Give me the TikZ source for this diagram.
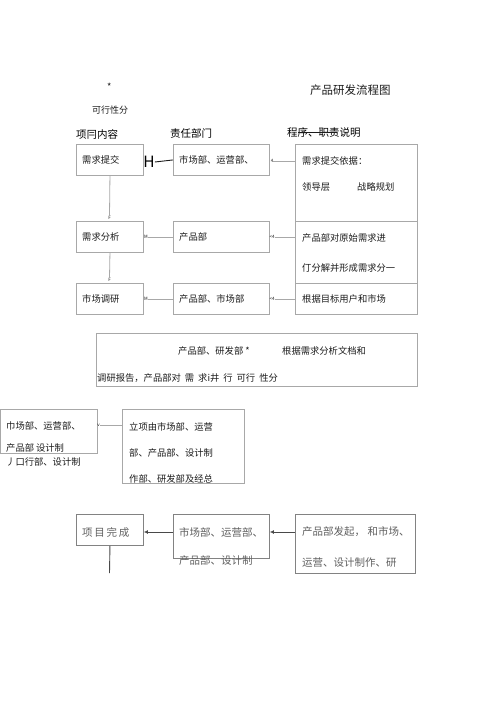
\documentclass[tikz,border=0pt]{standalone}
\usepackage{fontspec}
\setmainfont{Noto Sans CJK SC}
\usepackage{tikz}
\usetikzlibrary{arrows.meta,positioning}
\definecolor{boxgray}{HTML}{A8A8A8}
\definecolor{txtgray}{HTML}{1C1C1C}

\begin{document}
\begin{tikzpicture}[x=1pt,y=-1pt,
  box/.style={draw=boxgray,line width=0.9pt,anchor=north west,inner sep=0pt},
  txt/.style={anchor=west,inner sep=0pt,text=txtgray,font=\fontsize{9.3}{9.3}\selectfont},
  head/.style={anchor=west,inner sep=0pt,text=black,font=\fontsize{10.5}{10.5}\selectfont},
  song/.style={anchor=west,inner sep=0pt,text=txtgray!70,font=\fontsize{10.5}{10.5}\selectfont},
  tip/.style={inner sep=0pt,text=txtgray,font=\fontsize{4.5}{4.5}\selectfont},
  conn/.style={draw=boxgray,line width=0.8pt},
  arr/.style={draw=txtgray!80,line width=0.8pt,-{Latex[length=4pt,width=4pt]}}]
\fill[white] (0,0) rectangle (500,708);
\useasboundingbox (0,0) rectangle (500,708);

\node[txt] at (107,87) {*};
\node[anchor=west,inner sep=0pt,text=txtgray,font=\fontsize{11.5}{11.5}\selectfont] (title) at (310,90) {产品研发流程图};
\node[txt,font=\fontsize{9}{9}\selectfont] at (92,110) {可行性分};
\node[head] at (76,134) {项冃内容};
\node[head] at (170,134) {责任部门};
\node[head] (proc) at (287,133) {程序、职责说明};
\draw[txtgray,line width=0.6pt] (298,132) -- (337,132);

\node[box,minimum width=67,minimum height=31] (need1) at (76,144) {};
\node[box,minimum width=67,minimum height=31] (need2) at (76,221) {};
\node[box,minimum width=67,minimum height=31] (need3) at (76,283) {};
\node[box,minimum width=96,minimum height=31] (dept1) at (173,144) {};
\node[box,minimum width=96,minimum height=31] (dept2) at (173,221) {};
\node[box,minimum width=96,minimum height=31] (dept3) at (173,283) {};
\node[box,minimum width=122,minimum height=77] (desc1) at (295,144) {};
\node[box,minimum width=122,minimum height=62] (desc2) at (295,221) {};
\node[box,minimum width=122,minimum height=31] (desc3) at (295,283) {};

\node[txt] at (82,160) {需求提交};
\node[txt] at (82,237) {需求分析};
\node[txt] at (82,299) {市场调研};
\node[txt] at (179,160) {市场部、运营部、};
\node[txt] at (179,237) {产品部};
\node[txt] at (179,299) {产品部、市场部};
\node[txt] at (302,161) {需求提交依据：};
\node[txt] at (302,187) {领导层};
\node[txt] at (357,187) {战略规划};
\node[txt] at (302,238) {产品部对原始需求进};
\node[txt] at (302,268) {仃分解并形成需求分一};
\node[txt] at (302,299) {根据目标用户和市场};

\node[inner sep=0pt,font=\fontsize{15.5}{15.5}\selectfont] (h) at (149,162) {H};
\draw[conn,draw=txtgray,line width=0.9pt] (h.east) -- (dept1.west);
\node[tip] (r1) at (272,161) {4};
\draw[conn] (r1.east) -- (desc1.west |- r1);
\node[tip] (m2) at (146,237) {M};
\draw[conn] (dept2.west |- m2) -- (m2.east);
\node[tip] (r2) at (272,237) {<4};
\draw[conn] (r2.east) -- (desc2.west |- r2);
\node[tip] (m3) at (146,299) {M};
\draw[conn] (dept3.west |- m3) -- (m3.east);
\node[tip] (r3) at (272,299) {<4};
\draw[conn] (r3.east) -- (desc3.west |- r3);
\node[tip] (f2) at (109.5,218) {F};
\draw[conn] (need1.south) -- (f2.north);
\node[tip] (f3) at (109.5,280) {F};
\draw[conn] (need2.south) -- (f3.north);

\node[box,minimum width=321,minimum height=53] (feas) at (96,333) {};
\node[txt] at (178,351) {产品部、研发部 *};
\node[txt] at (282,351) {根据需求分析文档和};
\node[txt] at (97,378) {调研报告，产品部对\hspace{4pt}需\hspace{4pt}求i井\hspace{4pt}行\hspace{4pt}可行\hspace{4pt}性分};

\node[box,minimum width=97,minimum height=44] (proj1) at (0,409) {};
\node[box,minimum width=122,minimum height=74] (proj2) at (122,409) {};
\node[txt] at (6,426) {巾场部、运营部、};
\node[txt] at (6,448) {产品部\hspace{2pt}设计制};
\node[txt] at (6,462) {丿口行部、设计制};
\node[txt] at (129,427) {立项由市场部、运营};
\node[txt] at (129,453) {部、产品部、设计制};
\node[txt] at (129,479) {作部、研发部及经总};
\node[tip] (v1) at (98.5,425) {v};
\draw[conn] (v1.east) -- (proj2.west |- v1);

\node[box,draw=txtgray!55,minimum width=67,minimum height=31] (done) at (76,514) {};
\node[box,draw=txtgray!55,minimum width=96,minimum height=44] (dept4) at (173,514) {};
\node[box,draw=txtgray!55,minimum width=120,minimum height=59] (desc4) at (295,514) {};
\node[song] at (82,532) {项\,目\,完\,成};
\node[song] at (179,532) {市场部、运营部、};
\node[song] at (179,561) {产品部、设计制};
\node[song] at (302,532) {产品部发起， 和市场、};
\node[song] at (302,563) {运营、设计制作、研};
\coordinate (end) at (109.5,573);
\draw[arr] (dept4.west |- 0,532) -- (done.east |- 0,532);
\draw[arr] (desc4.west |- 0,532) -- (dept4.east |- 0,532);
\draw[draw=txtgray!80,line width=0.9pt] (done.south) -- (end);
\end{tikzpicture}
\end{document}
